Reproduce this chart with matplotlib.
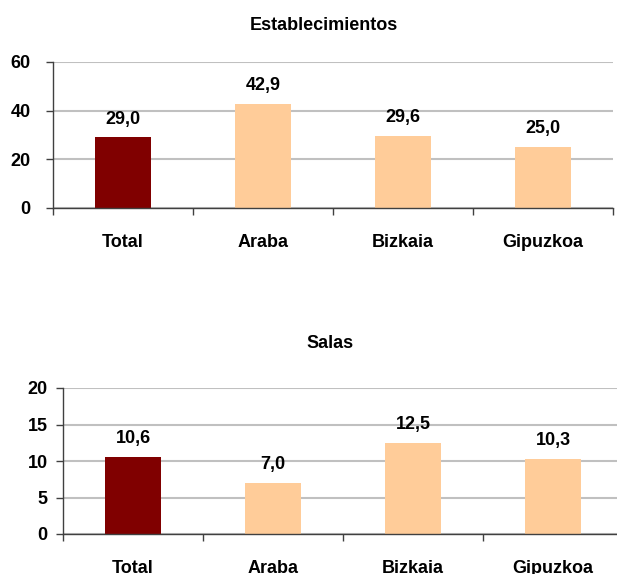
import matplotlib
matplotlib.use("Agg")
import matplotlib.pyplot as plt
import numpy as np

plt.rcParams.update({
    "font.family": ["Liberation Sans", "DejaVu Sans"],
    "font.weight": "bold",
    "font.size": 13,
})

# ── data ──
CATEGORIES = ["Total", "Araba", "Bizkaia", "Gipuzkoa"]
ESTABLECIMIENTOS = [29.0, 42.9, 29.6, 25.0]
SALAS = [10.6, 7.0, 12.5, 10.3]
COLORS = ["#800000", "#FFCC99", "#FFCC99", "#FFCC99"]

W, H = 617, 574
FS = 13
fig = plt.figure(figsize=(W / 100, H / 100), dpi=100)


def draw_panel(ax, values, ymax, ystep, ypad):
    x = np.arange(len(CATEGORIES))
    ax.set_axisbelow(True)
    ax.yaxis.grid(True, color="#C0C0C0", linewidth=1.5)
    ax.bar(x, values, 0.4, color=COLORS, edgecolor="none")
    for i, v in enumerate(values):
        ax.annotate(f"{v:.1f}".replace(".", ","), (i, v), textcoords="offset points",
                    xytext=(0, 7), ha="center", va="bottom", fontsize=FS, fontweight="bold")
    ax.set_xlim(-0.5, len(CATEGORIES) - 0.5)
    ax.set_ylim(0, ymax)
    ax.set_yticks(np.arange(0, ymax + 0.1, ystep))
    ax.set_xticks(x)
    ax.set_xticklabels(CATEGORIES, fontsize=FS, fontweight="bold")
    ax.set_xticks(np.arange(-0.5, len(CATEGORIES), 1), minor=True)
    ax.tick_params(axis="x", which="major", length=0, pad=19)
    ax.tick_params(axis="x", which="minor", length=5, width=1, color="#404040")
    ax.tick_params(axis="y", length=5, width=1, color="#404040", pad=ypad, labelsize=FS)
    for lab in ax.get_yticklabels():
        lab.set_fontweight("bold")
    for s in ["top", "right"]:
        ax.spines[s].set_visible(False)
    for s in ["left", "bottom"]:
        ax.spines[s].set_color("#404040")
        ax.spines[s].set_linewidth(1)


ax1 = fig.add_axes([53 / W, (H - 208) / H, 560 / W, 146 / H])
draw_panel(ax1, ESTABLECIMIENTOS, 60, 20, 11)
fig.text(324 / W, 1 - 25 / H, "Establecimientos", ha="center", va="center",
         fontsize=FS, fontweight="bold")

ax2 = fig.add_axes([63 / W, (H - 534) / H, 560 / W, 146 / H])
draw_panel(ax2, SALAS, 20, 5, 6)
fig.text(330 / W, 1 - 343 / H, "Salas", ha="center", va="center",
         fontsize=FS, fontweight="bold")

fig.savefig("out.png", dpi=100)
